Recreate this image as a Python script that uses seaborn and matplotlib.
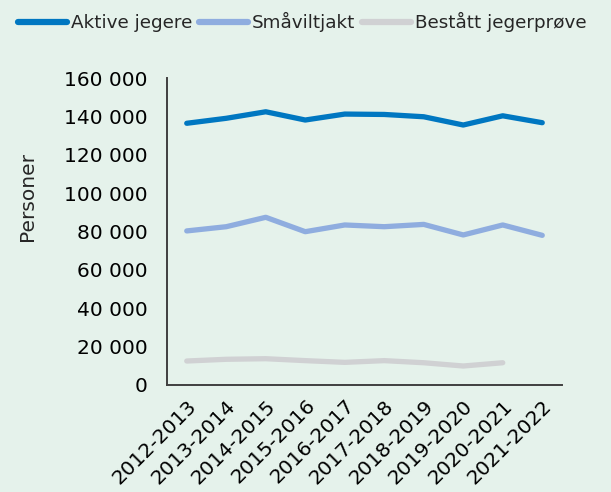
import matplotlib
matplotlib.use('Agg')
import matplotlib.pyplot as plt
from matplotlib.ticker import FuncFormatter
import seaborn as sns
import numpy as np
import pandas as pd

seasons = ['2012-2013', '2013-2014', '2014-2015', '2015-2016', '2016-2017',
           '2017-2018', '2018-2019', '2019-2020', '2020-2021', '2021-2022']
aktive = [136400, 139000, 142400, 138100, 141200, 141000, 139800, 135500, 140300, 136700]
smavilt = [80300, 82500, 87400, 79900, 83400, 82500, 83700, 78200, 83400, 78000]
bestatt = [12500, 13400, 13700, 12700, 11800, 12700, 11600, 9900, 11600, np.nan]

names = ['Aktive jegere', 'Småviltjakt', 'Bestått jegerprøve']
colors = ['#0077C1', '#8FADDF', '#D0D1D3']
bg = '#E5F2EB'

df = pd.DataFrame({'season': seasons, names[0]: aktive, names[1]: smavilt, names[2]: bestatt})
long = df.melt(id_vars='season', var_name='serie', value_name='personer')

sns.set_theme(style='white')
plt.rcParams['font.family'] = ['DejaVu Sans']

fig = plt.figure(figsize=(6.11, 4.92), dpi=100, facecolor=bg)
ax = fig.add_axes([167 / 611, 1 - 385 / 492, (562 - 167) / 611, (385 - 78) / 492])
ax.set_facecolor(bg)

sns.lineplot(data=long, x='season', y='personer', hue='serie', hue_order=names,
             palette=colors, linewidth=3.8, ax=ax, sort=False)
for line in ax.lines:
    line.set_solid_capstyle('round')

ax.set_ylim(0, 160000)
ax.set_yticks(range(0, 160001, 20000))
ax.yaxis.set_major_formatter(FuncFormatter(lambda v, p: f'{int(v):,}'.replace(',', ' ')))
ax.set_xlim(-0.5, len(seasons) - 0.5)
ax.tick_params(axis='y', length=0, labelsize=14.5, colors='black', pad=14)
ax.tick_params(axis='x', length=0, labelsize=14.5, colors='black', pad=8)
plt.setp(ax.get_xticklabels(), rotation=45, ha='right', rotation_mode='anchor')
ax.set_xlabel('')
ax.set_ylabel('Personer', fontsize=14.5)
ax.yaxis.set_label_coords((37 - 167) / (562 - 167), (385 - 197) / (385 - 78))

for s in ['top', 'right']:
    ax.spines[s].set_visible(False)
for s in ['left', 'bottom']:
    ax.spines[s].set_color('#404040')
    ax.spines[s].set_linewidth(1.4)

handles, labels = ax.get_legend_handles_labels()
ax.get_legend().remove()
leg = fig.legend(handles, labels, loc='upper left', bbox_to_anchor=(6 / 611, 1.0), ncol=3,
                 frameon=False, fontsize=13.2, handlelength=2.7, handletextpad=0.2,
                 columnspacing=0.35, borderaxespad=0.25, borderpad=0.4)
for h in leg.get_lines():
    h.set_linewidth(4.5)

fig.savefig('out.png', dpi=100, facecolor=bg)
